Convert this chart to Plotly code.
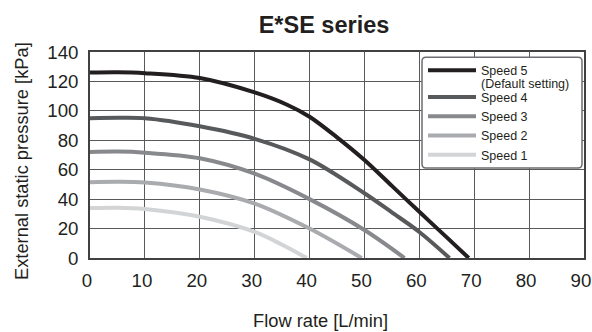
import plotly.graph_objects as go

# ---- data ----
series_names = ["Speed 5", "Speed 4", "Speed 3", "Speed 2", "Speed 1"]
default_note = "(Default setting)"
flow_s5 = [0, 5, 10, 20, 30, 36, 40, 45, 50, 55, 60, 65, 69]
pres_s5 = [126, 126.2, 125.6, 122.3, 112.5, 104, 96, 82, 66.6, 49, 31.4, 14, 0]
flow_s4 = [0, 5, 10, 20, 30, 40, 50, 55, 60, 65.5]
pres_s4 = [95, 95.3, 95, 89.5, 81, 67, 44, 31, 17.7, 0]
flow_s3 = [0, 5, 10, 20, 30, 40, 50, 57.3]
pres_s3 = [72, 72.3, 71.6, 67.8, 57.3, 40, 19, 0]
flow_s2 = [0, 5, 10, 20, 30, 40, 49.5]
pres_s2 = [51.5, 51.8, 51.3, 46.6, 37, 20, 0]
flow_s1 = [0, 5, 10, 20, 30, 35, 39.5]
pres_s1 = [34, 34.2, 33.3, 28, 17.7, 9, 0]
x_ticks = [0, 10, 20, 30, 40, 50, 60, 70, 80, 90]
y_ticks = [0, 20, 40, 60, 80, 100, 120, 140]

colors = ["#231f20", "#58595b", "#87898c", "#a9abae", "#d3d4d6"]
groups = ["default", "others", "others", "others", "others"]
flows = [flow_s5, flow_s4, flow_s3, flow_s2, flow_s1]
pressures = [pres_s5, pres_s4, pres_s3, pres_s2, pres_s1]

FONT = "Liberation Sans, Arial, sans-serif"
TXT = "#231f20"

fig = go.Figure()
for name, fx, py_, c, g in zip(series_names, flows, pressures, colors, groups):
    fig.add_trace(go.Scatter(
        x=fx, y=py_, name=name, mode="lines", legendgroup=g,
        line=dict(color=c, width=4, shape="spline", smoothing=0.9),
    ))

W, H = 592, 332
PL, PR, PT, PB = 90, 584, 52.3, 257.7          # plot area in pixels
L, R, T, B = PL, W - PR, PT, H - PB
PW, PH = PR - PL, PB - PT


def px(xp):
    return (xp - PL) / PW


def py(yp):
    return (PB - yp) / PH


# rounded legend box (pixels)
bx0, bx1, by0, by1, rr = 422, 582, 57.5, 168, 4
X0, X1, Y0, Y1 = px(bx0), px(bx1), py(by1), py(by0)
rx, ry = rr / PW, rr / PH
box_path = (f"M {X0+rx},{Y1} L {X1-rx},{Y1} Q {X1},{Y1} {X1},{Y1-ry} "
            f"L {X1},{Y0+ry} Q {X1},{Y0} {X1-rx},{Y0} L {X0+rx},{Y0} "
            f"Q {X0},{Y0} {X0},{Y0+ry} L {X0},{Y1-ry} Q {X0},{Y1} {X0+rx},{Y1} Z")

fig.update_layout(
    width=W, height=H,
    margin=dict(l=L, r=R, t=T, b=B, autoexpand=False),
    paper_bgcolor="white", plot_bgcolor="white",
    font=dict(family=FONT, color=TXT),
    title=dict(text="<b>E*SE series</b>", font=dict(size=23.5, family=FONT, color=TXT),
               x=324 / W, xref="container", xanchor="center",
               y=1 - 25 / H, yref="container", yanchor="middle"),
    showlegend=True,
    legend=dict(
        x=px(423), y=py(56), xanchor="left", yanchor="top",
        bgcolor="rgba(0,0,0,0)", borderwidth=0,
        font=dict(size=12.5, family=FONT, color=TXT),
        itemwidth=48, valign="middle", tracegroupgap=7.4,
        traceorder="grouped",
    ),
    shapes=[
        dict(type="path", xref="paper", yref="paper", layer="above",
             path=box_path, line=dict(color="#6d6e71", width=1.5), fillcolor="white"),
    ],
    annotations=[
        dict(text=default_note, xref="paper", yref="paper",
             x=px(478.5), y=py(84), xanchor="left", yanchor="middle", showarrow=False,
             font=dict(size=12.5, family=FONT, color=TXT)),
        dict(text="Flow rate [L/min]", xref="paper", yref="paper",
             x=px(320.5), y=py(320),
             xanchor="center", yanchor="middle", showarrow=False,
             font=dict(size=18.3, family=FONT, color=TXT)),
        dict(text="External static pressure [kPa]", xref="paper", yref="paper",
             x=px(21), y=py(161),
             xanchor="center", yanchor="middle", textangle=-90, showarrow=False,
             font=dict(size=18.3, family=FONT, color=TXT)),
    ],
)

fig.update_xaxes(
    range=[0, 90], tickvals=x_ticks, ticktext=[str(v) for v in x_ticks],
    showgrid=True, gridcolor="#58595b", gridwidth=1.2,
    showline=True, linecolor="#414042", linewidth=1.5, mirror=True,
    zeroline=False, ticks="", ticklabelstandoff=5, automargin=False,
    ticklabeloverflow="allow", ticklabelshift=-3,
    tickfont=dict(size=18.7, family=FONT, color=TXT),
)
fig.update_yaxes(
    range=[0, 140], tickvals=y_ticks, ticktext=[str(v) for v in y_ticks],
    showgrid=True, gridcolor="#58595b", gridwidth=1.2,
    showline=True, linecolor="#414042", linewidth=1.5, mirror=True,
    zeroline=False, ticks="", ticklabelstandoff=6, automargin=False,
    ticklabeloverflow="allow",
    tickfont=dict(size=18.7, family=FONT, color=TXT),
)

fig.write_html(
    "out.html",
    config={"displayModeBar": False},
    post_script="document.body.style.margin='0';document.body.style.overflow='hidden';",
)
